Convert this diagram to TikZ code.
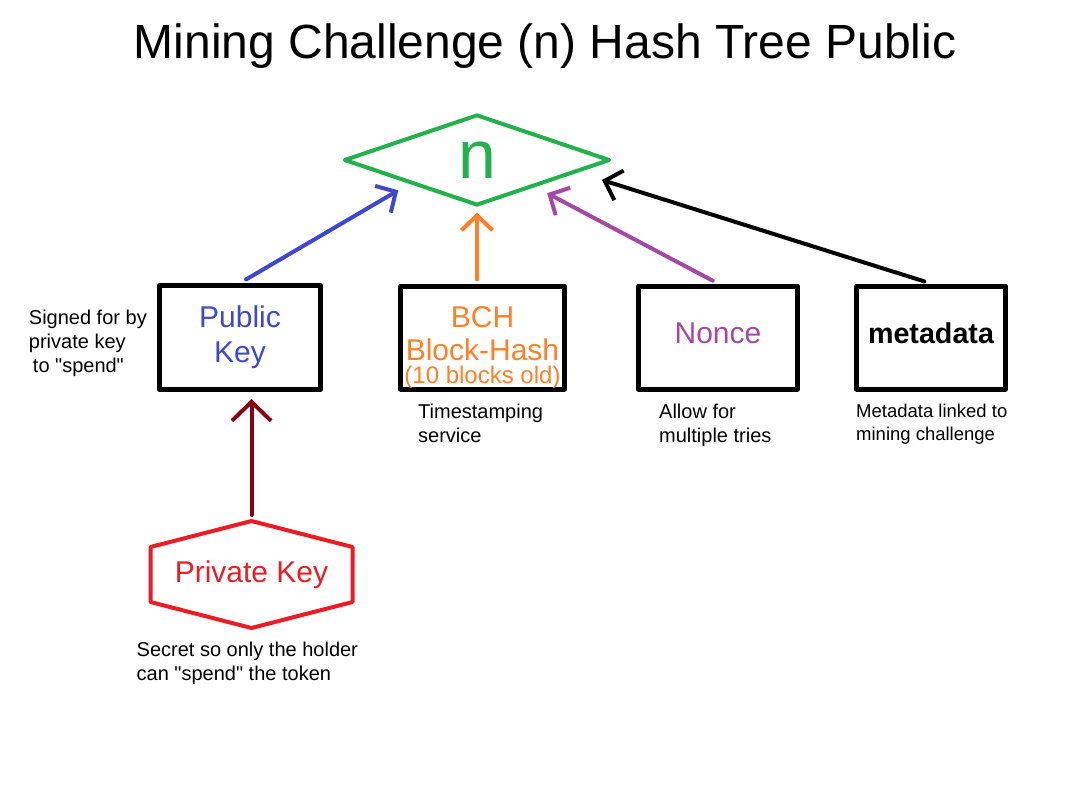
\documentclass[tikz,border=0pt]{standalone}
\usepackage{fontspec}
\setmainfont{Liberation Sans}[Ligatures=TeXOff]
\usepackage{tikz}
\usetikzlibrary{arrows.meta,calc,positioning,shapes.geometric}
\definecolor{paintgreen}{HTML}{22B14C}
\definecolor{paintblue}{HTML}{3F48CC}
\definecolor{paintorange}{HTML}{FF7F27}
\definecolor{paintpurple}{HTML}{A349A4}
\definecolor{paintred}{HTML}{ED1C24}
\definecolor{paintdarkred}{HTML}{880015}
\tikzset{
every picture/.style={line cap=round,line join=round},
>={Straight Barb[length=15pt,width=31pt]},
chal title/.style={font=\fontsize{48}{56}\selectfont, inner sep=0pt},
chal box/.style={
  draw=black,
  line width=5pt,
  minimum height=103pt,
  align=center,
  inner sep=0pt,
  font=\fontsize{30}{35}\selectfont
},
chal diamond/.style={
  diamond,
  draw=paintgreen,
  line width=4pt,
  aspect=2.9,
  minimum width=266pt,
  minimum height=91pt,
  inner sep=0pt,
  text=paintgreen,
  font=\fontsize{68}{70}\selectfont
},
key hex/.style={
  minimum width=202pt,
  minimum height=107pt,
  inner sep=0pt,
  outer sep=0pt,
  text=paintred,
  font=\fontsize{30}{35}\selectfont
},
key hex line/.style={draw=paintred, line width=4pt},
chal flow/.style={draw=black, ->, line width=4pt},
chal note/.style={font=\fontsize{20}{24}\selectfont, align=left, inner sep=0pt}
}
\begin{document}
\begin{tikzpicture}[x=1pt,y=-1pt]
\useasboundingbox (0,0) rectangle (1092,796);
\node[chal title, anchor=base] (title) at (545,58) {Mining Challenge (n) Hash Tree Public};
% the hash and its four inputs
\node[chal diamond] (nchal) at (477,160) {n};
\node[chal box, minimum width=161pt, minimum height=104pt, text=paintblue] (pubkey) at (240,337.5) {Public\\Key};
\node[chal box, minimum width=164pt, right=75pt of pubkey, text=paintorange, font=\fontsize{30}{33}\selectfont] (bch) {\rule{0pt}{40pt}BCH\\Block-Hash\\[-10pt]{\fontsize{24}{24}\selectfont(10 blocks old)}};
\node[chal box, minimum width=159pt, right=69pt of bch, text=paintpurple] (nonce) {\rule[-8pt]{0pt}{8pt}Nonce};
\node[chal box, minimum width=149pt, right=54pt of nonce, font=\fontsize{28.7}{33}\selectfont\bfseries] (meta) {\rule[-8pt]{0pt}{8pt}metadata};
\node[key hex, below=129pt of pubkey, xshift=11.5pt] (privkey) {Private Key};
\draw[key hex line] (privkey.north) -- ([yshift=27.5pt]privkey.east) -- ([yshift=-27.5pt]privkey.east)
  -- (privkey.south) -- ([yshift=-27.5pt]privkey.west) -- ([yshift=27.5pt]privkey.west) -- cycle;
% arrows into n
\draw[chal flow, draw=paintblue, shorten <=7pt, shorten >=13pt] (pubkey.north) -- (nchal.south west);
\draw[chal flow, draw=paintorange, shorten <=4pt, shorten >=5pt] (nchal.south |- bch.north) -- (nchal.south);
\draw[chal flow, draw=paintpurple, shorten <=6pt, shorten >=3pt] (nonce.north) -- ([yshift=-8pt]nchal.south east);
\draw[chal flow, shorten <=7pt] (meta.north) -- ([xshift=-10pt,yshift=-20pt]nchal.east);
\draw[chal flow, draw=paintdarkred, -{Straight Barb[length=19pt,width=39pt]}, shorten <=6pt, shorten >=7pt] (privkey.north) -- (privkey.north |- pubkey.south);
% notes
\node[chal note, left=10pt of pubkey, yshift=-6pt] (signnote) {Signed for by\\private key\\\hspace{4pt}to "spend"};
\node[chal note, anchor=north west] (tsnote) at ([xshift=20pt,yshift=-12pt]bch.south west) {Timestamping\\service};
\node[chal note, anchor=north west] (triesnote) at ([xshift=23pt,yshift=-12pt]nonce.south west) {Allow for\\multiple tries};
\node[chal note, anchor=north west, font=\fontsize{18.5}{23}\selectfont] (metanote) at ([xshift=2pt,yshift=-12pt]meta.south west) {Metadata linked to\\mining challenge};
\node[chal note, anchor=north west] (secretnote) at ([xshift=-14pt,yshift=-14pt]privkey.south west) {Secret so only the holder\\can "spend" the token};
\end{tikzpicture}
\end{document}
